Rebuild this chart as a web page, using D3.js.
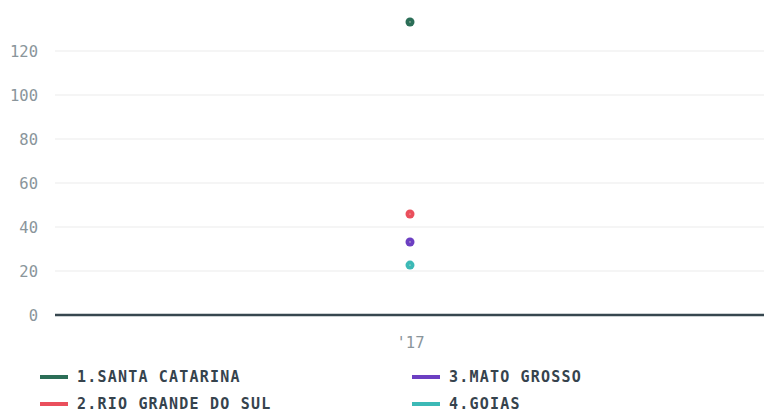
<!DOCTYPE html>
<html><head><meta charset="utf-8">
<script src="https://cdn.jsdelivr.net/npm/d3@7"></script>
<style>body{margin:0;background:#fff}svg{display:block}</style>
</head><body><svg id="c" width="764" height="413"></svg>
<script>
const categories = ["'17"];
const seriesNames = ["1.SANTA CATARINA", "2.RIO GRANDE DO SUL", "3.MATO GROSSO", "4.GOIAS"];
const seriesValues = [[133.2], [45.9], [33.2], [22.7]];
const seriesColors = ["#2b6e57", "#ea4f5c", "#6c3fc2", "#3cb9b6"];
const yTicks = [0, 20, 40, 60, 80, 100, 120];

const svg = d3.select("#c");
const x = d3.scalePoint().domain(categories).range([56, 764]).padding(0.5);
const y = d3.scaleLinear().domain([0, 120]).range([315, 51]);

// gridlines
svg.append("g").selectAll("line").data(yTicks.filter(d => d !== 0)).join("line")
  .attr("x1", 55).attr("x2", 764).attr("y1", d => y(d)).attr("y2", d => y(d))
  .attr("stroke", "#ebebeb").attr("stroke-width", 1);

// y axis
const yAxis = svg.append("g").attr("transform", "translate(55,0)")
  .call(d3.axisLeft(y).tickValues(yTicks).tickSize(0).tickPadding(17));
yAxis.select(".domain").remove();
yAxis.selectAll("text").attr("fill", "#8a959b").style("font-family", "'DejaVu Sans Mono', monospace").style("font-size", "15.5px").attr("dy", "0.35em");

// zero line
svg.append("line").attr("x1", 55).attr("x2", 764).attr("y1", y(0)).attr("y2", y(0))
  .attr("stroke", "#37474f").attr("stroke-width", 2.5);

// x axis
const xAxis = svg.append("g").attr("transform", `translate(0,${y(0)})`)
  .call(d3.axisBottom(x).tickSize(0).tickPadding(22));
xAxis.select(".domain").remove();
xAxis.selectAll("text").attr("fill", "#8a959b").style("font-family", "'DejaVu Sans Mono', monospace").style("font-size", "15.5px");

// points
seriesNames.forEach((name, i) => {
  const g = svg.append("g");
  g.selectAll("circle.p").data(seriesValues[i]).join("circle").attr("class", "p")
    .attr("cx", (d, j) => x(categories[j])).attr("cy", d => y(d))
    .attr("r", 4.5).attr("fill", seriesColors[i]);
  g.selectAll("circle.c").data(seriesValues[i]).join("circle").attr("class", "c")
    .attr("cx", (d, j) => x(categories[j])).attr("cy", d => y(d))
    .attr("r", 0.6).attr("fill", "#f3f0d8");
});

// legend
const legendPos = [[40, 377], [40, 404], [412, 377], [412, 404]];
seriesNames.forEach((name, i) => {
  const [lx, ly] = legendPos[i];
  svg.append("line").attr("x1", lx).attr("x2", lx + 28).attr("y1", ly).attr("y2", ly)
    .attr("stroke", seriesColors[i]).attr("stroke-width", 4);
  svg.append("text").attr("x", lx + 37).attr("y", ly).attr("dy", "0.35em")
    .attr("fill", "#36434d").style("font-family", "'DejaVu Sans Mono', monospace")
    .style("font-size", "15px").style("font-weight", "bold").style("letter-spacing", "1.2px")
    .text(name);
});
</script></body></html>
